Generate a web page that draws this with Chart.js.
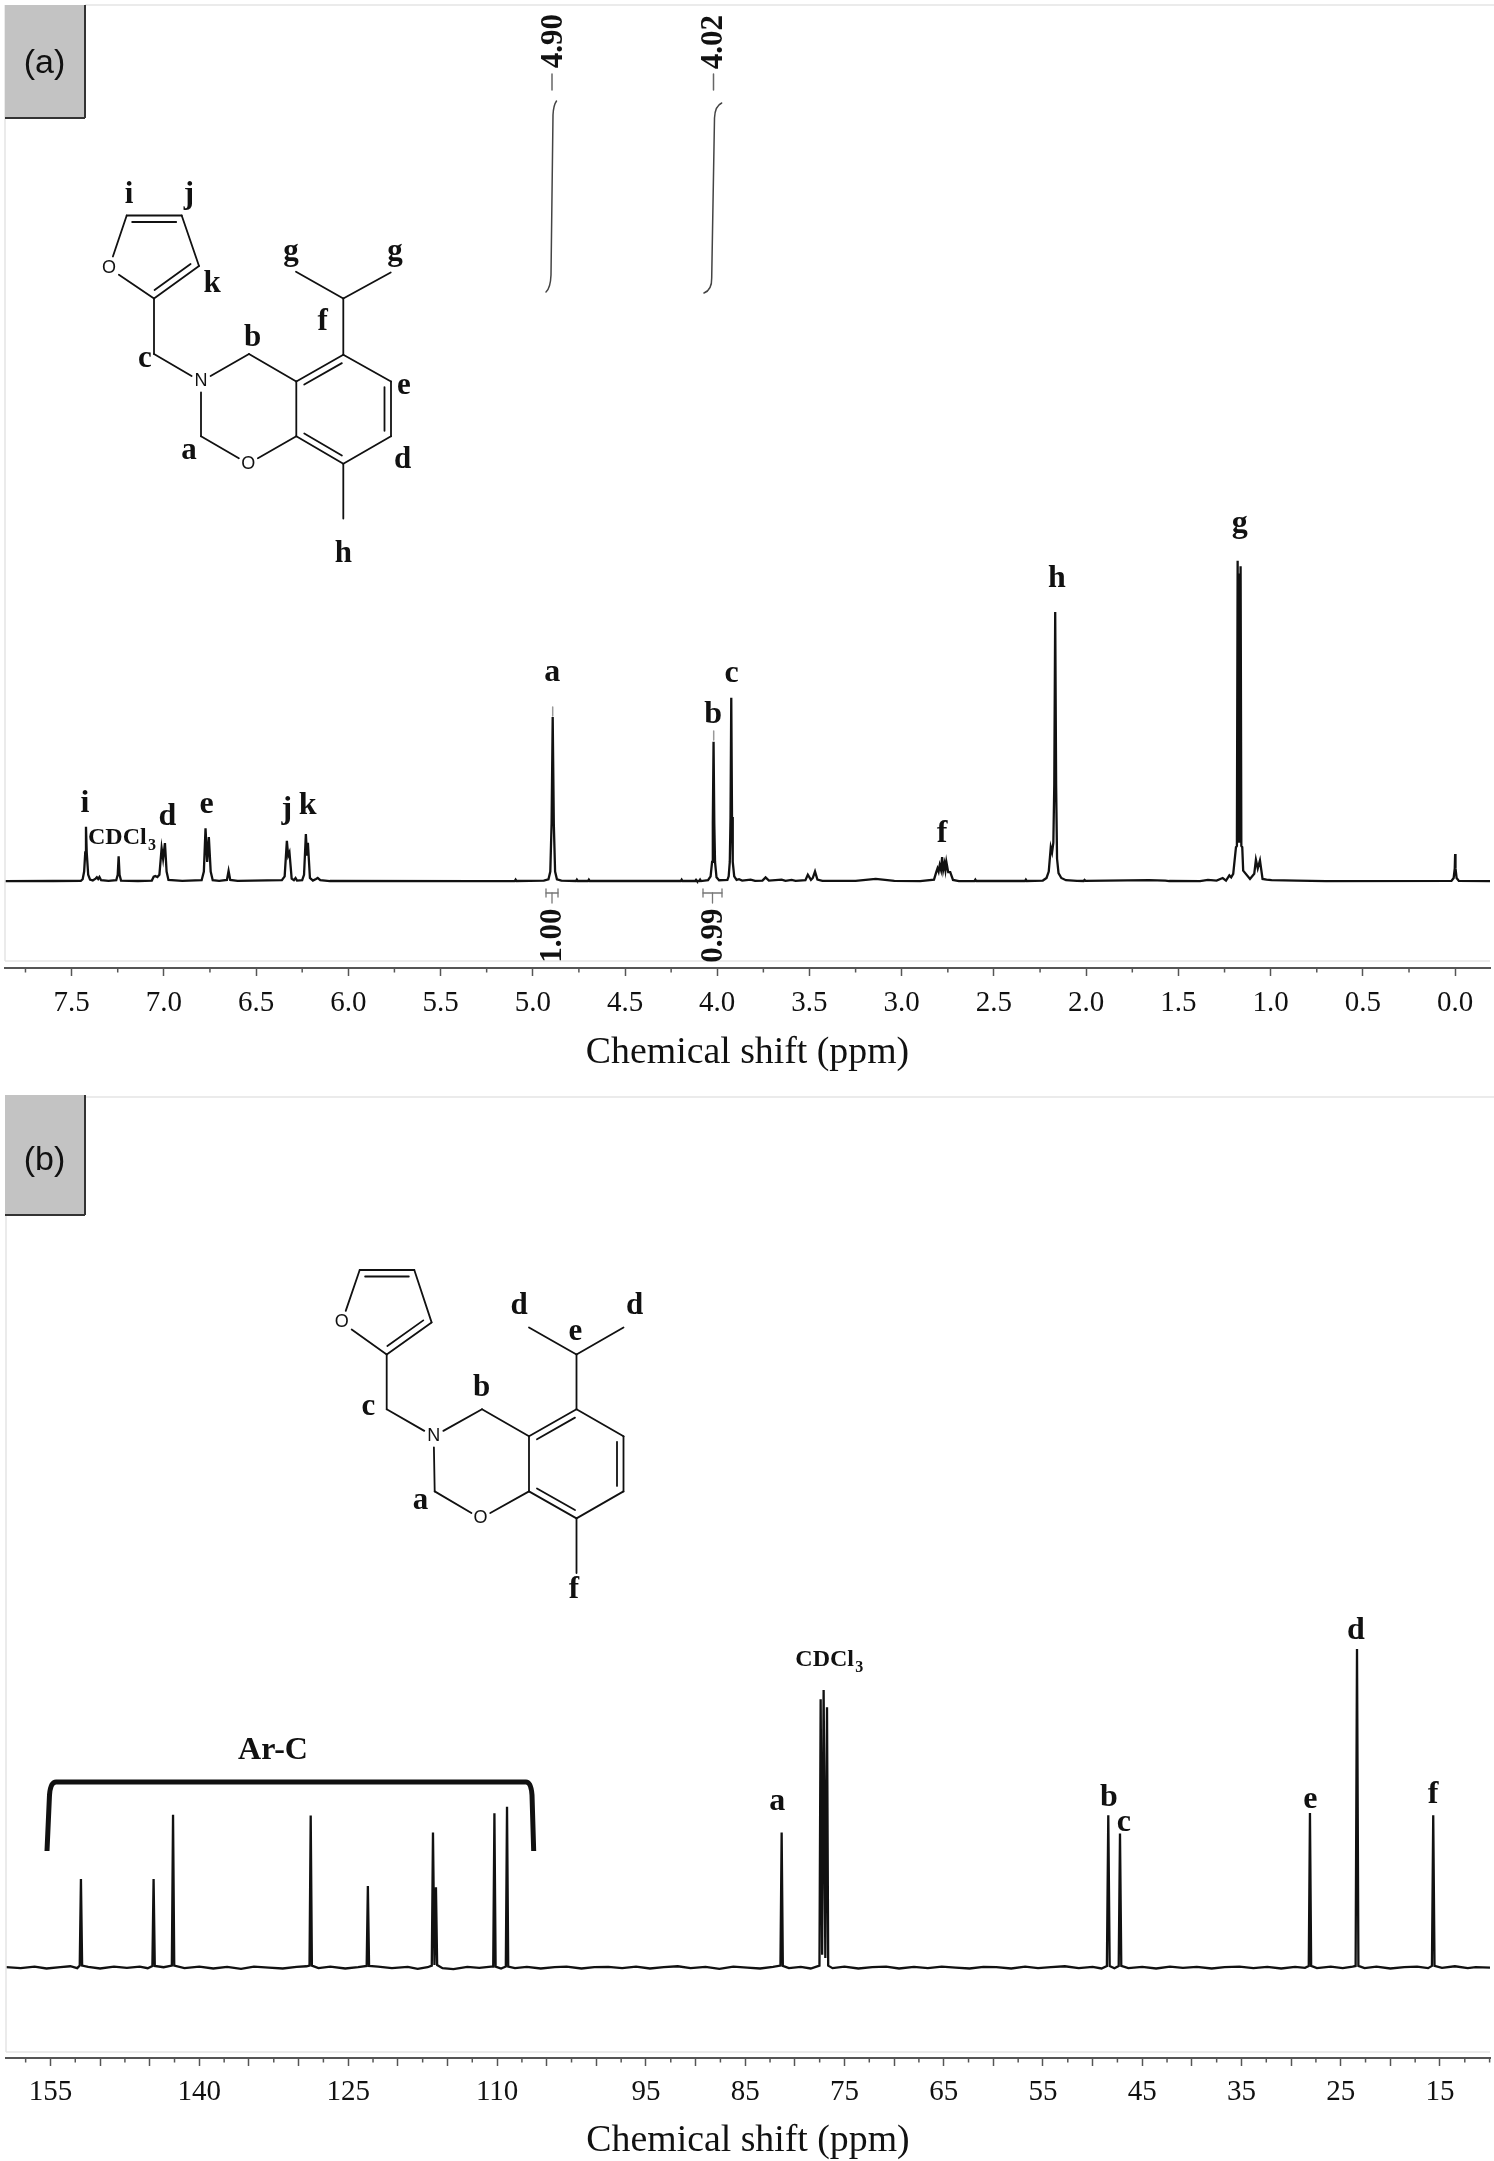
<!DOCTYPE html>
<html>
<head>
<meta charset="utf-8">
<title>NMR spectra</title>
<script src="https://cdn.jsdelivr.net/npm/chart.js@4"></script>
<style>
  html, body { margin: 0; padding: 0; background: #fff; }
  canvas { display: block; }
</style>
</head>
<body>
<canvas id="chartA" width="1494" height="1090"></canvas>
<canvas id="chartB" width="1494" height="1071"></canvas>
<script>
// 1H spectrum. intensity: tallest peak (g) = 100
const ppmA = [
  7.861,7.6,7.45,7.44,7.432,7.426,7.422,7.418,7.41,7.4,
  7.385,7.37,7.363,7.356,7.349,7.34,7.3,7.258,7.25,7.245,7.24,7.232,7.14,
  7.065,7.055,7.046,7.035,7.024,7.012,7.004,6.994,6.985,6.975,6.9,
  6.795,6.783,6.774,6.765,6.756,6.746,6.735,6.7,6.658,6.649,6.64,6.6,
  6.36,6.345,6.333,6.326,6.319,6.307,6.295,6.286,6.278,6.25,
  6.24,6.23,6.224,6.219,6.208,6.192,6.175,6.166,6.152,6.1,5.3,
  5.098,5.093,5.088,4.94,4.915,4.905,4.898,4.892,4.886,4.879,4.869,4.845,
  4.766,4.761,4.756,4.701,4.696,4.691,4.198,4.193,4.188,4.12,4.115,4.11,4.098,4.093,4.088,
  4.05,4.036,4.028,4.024,4.02,4.016,4.012,4.004,3.99,
  3.945,3.938,3.932,3.928,3.924,3.92,3.916,3.908,3.895,
  3.882,3.865,3.819,3.795,3.755,3.738,3.72,3.651,3.63,3.597,3.575,3.522,3.509,3.492,3.482,3.47,3.457,3.43,
  3.25,3.141,3.04,2.9,2.825,2.812,2.806,2.8,2.794,2.787,2.781,2.775,2.768,2.763,2.758,2.748,2.737,2.722,2.69,
  2.606,2.601,2.596,2.332,2.327,2.322,2.235,2.215,2.203,2.192,2.185,2.178,2.173,2.168,2.163,2.158,2.15,2.135,2.11,2.05,
  2.014,2.009,2.004,1.661,1.571,1.55,1.383,1.34,1.293,1.26,1.242,1.224,1.214,1.203,1.188,1.183,1.179,1.175,1.171,1.167,1.163,1.159,1.154,1.149,1.112,1.089,1.08,1.07,1.058,1.044,1.022,0.995,0.86,0.7,
  0.02,0.008,0.002,0,-0.002,-0.008,-0.02,-0.189
];
const intensityA = [
  0,0.05,0.1,0.6,3,9,17,9,2,0.5,
  0.2,0.8,1.2,0.7,1.3,0.3,0.1,0.3,2,7.8,2,0.2,0.05,
  0.2,1.4,1.6,1.3,2,10.3,7,11.9,3,0.4,0.1,
  0.3,3,16.5,6,13.8,3,0.3,0.1,0.4,3.2,0.4,0.1,
  0.3,1.5,12.6,8,9,0.8,0.3,1,0.2,0.3,
  2,14.7,8,12,1,0.2,0.7,1,0.3,0.05,0,
  0.05,0.5,0.05,0.15,0.6,3,18,51.2,18,3,0.6,0.15,
  0.05,0.5,0.05,0.05,0.5,0.05,0.05,0.5,0.05,0.05,0.4,0.05,0.05,0.5,0.05,
  0.3,1.5,6,18,43.5,18,6,1.2,0.3,
  0.4,1.5,6,20,57.2,20,6,1.5,0.4,
  0.6,0.2,0.5,0.1,0.2,1.2,0.2,0.5,0.1,0.4,0.1,0.3,2,0.4,1,3,0.5,0.1,
  0.1,0.7,0.1,0,0.5,3,4,3,5,3.5,7.5,3.5,5.5,3.5,6,2.8,2.8,0.4,0,
  0.05,0.5,0.05,0.05,0.5,0.05,0.2,1,3,10.6,9,12,30,84,30,7,2.5,1,0.3,0.1,
  0.05,0.4,0.1,0.3,0.2,0.05,0,0.4,0.2,1,0.2,1.8,1.2,2.3,10.6,11,100,12,96,12,98.3,11,10.6,3.3,0.7,2.3,6.7,4,6.5,0.7,0.5,0.3,0.2,0,
  0.1,1,4,8.5,4,1,0.1,0
];
const ticksA = [7.5,7,6.5,6,5.5,5,4.5,4,3.5,3,2.5,2,1.5,1,0.5,0];
const minorTicksA = [7.75,7.25,6.75,6.25,5.75,5.25,4.75,4.25,3.75,3.25,2.75,2.25,1.75,1.25,0.75,0.25];
const peakNamesA = ['i','d','e','j','k','a','b','c','f','h','g'];
const peakNamePpmA = [7.428,6.98,6.768,6.333,6.22,4.895,4.022,3.922,2.781,2.159,1.168];
const peakNameIntA = [21.6,17.5,21.25,19.7,20.9,62.6,49.3,62.3,12.1,91.7,108.9];

// 13C spectrum, tallest peak (d) = 100
const ppmB = [
  159.48,158,156.6,155.4,154,153,152.3,152.05,151.93,151.81,151.2,150,
  148.6,147.3,146,145.2,144.73,144.61,144.49,143.6,142.77,142.65,142.53,141.5,140,
  138.6,137.2,135.8,134.5,133,131.6,130.2,129.2,128.9,128.78,128.66,128,126.8,125.3,124,
  123.14,123.02,122.9,122,120.6,119,118,117,116.58,116.46,116.31,116.16,116.04,115.5,114.4,113,111.8,110.6,
  110.39,110.27,110.15,109.6,109.12,109,108.88,108.2,107,105.6,104.2,103,101.5,100.2,98.8,97.4,96,94.6,93.2,91.8,90.5,89,87.6,86.2,84.8,83.5,82.2,
  81.45,81.33,81.21,80.6,79.4,78.4,77.52,77.4,77.25,77.1,76.93,76.76,76.64,76.2,75,
  73.6,72.2,70.8,69.5,68,66.6,65.2,63.8,62.4,61,59.7,58.2,56.8,55.5,54.2,52.8,51.4,50,49.1,
  48.56,48.42,48.28,47.8,47.37,47.24,47.11,46.4,45,43.6,42.2,40.9,39.5,38,36.7,35.2,33.8,32.4,31,29.6,28.6,
  28.22,28.1,27.98,27.4,26,24.8,23.8,23.5,23.36,23.22,22.6,21.4,20,18.6,17.3,16.2,
  15.81,15.68,15.55,14.8,13.5,12.2,11.4,9.96
];
const intensityB = [
  0.1,-0.2,0.3,-0.3,0.1,0.4,-0.2,0.6,27.8,0.6,0.2,-0.3,
  0.3,-0.1,0.3,-0.2,0.5,27.8,0.5,0.1,0.6,48,0.6,-0.2,0.3,
  -0.3,0.2,-0.4,0.3,0,-0.3,0.2,0.4,0.6,47.7,0.6,-0.2,0.3,-0.3,0.1,
  0.5,25.6,0.5,0.3,-0.2,0.2,-0.4,0.1,0.6,42.4,0.8,25.2,0.8,-0.2,-0.5,0.2,-0.1,0.3,
  0.3,48.4,0.3,-0.3,0.3,50.5,0.3,-0.2,0.2,-0.3,0.1,0.3,-0.3,0.1,0.2,-0.2,0.3,-0.3,0.1,0.4,-0.2,0.2,-0.4,0.3,0,-0.3,0.2,
  0.6,42.4,0.5,-0.2,0.2,-0.3,0.6,84.2,4,87.1,3,81.7,0.6,-0.2,0.3,
  -0.3,0.1,0.3,-0.3,0.2,-0.2,0.3,0,-0.3,0.2,0.1,-0.3,0.3,-0.2,0.1,0.4,-0.2,0.2,-0.3,
  0.5,47.8,0.5,-0.2,0.5,42.1,0.5,-0.2,0.2,-0.3,0.3,-0.1,0.2,-0.3,0.1,0.3,-0.2,0.2,-0.3,0.2,-0.1,
  0.5,48.5,0.5,-0.2,0.3,-0.2,0.3,0.5,100,0.5,-0.2,0.3,-0.3,0.1,0.3,-0.2,
  0.5,47.8,0.5,-0.1,0.4,-0.2,0.1,0
];
const ticksB = [155,150,145,140,135,130,125,120,115,110,105,100,95,90,85,80,75,70,65,60,55,50,45,40,35,30,25,20,15];
const tickLabelsB = [155,140,125,110,95,85,75,65,55,45,35,25,15];
const minorTicksB = [157.5,152.5,147.5,142.5,137.5,132.5,127.5,122.5,117.5,112.5,107.5,102.5,97.5,92.5,87.5,82.5,77.5,72.5,67.5,62.5,57.5,52.5,47.5,42.5,37.5,32.5,27.5,22.5,17.5,12.5,10];
const peakNamesB = ['a','b','c','e','d','f'];
const peakNamePpmB = [81.77,48.35,46.84,28.07,23.46,15.7];
const peakNameIntB = [49.6,50.6,43,50.2,103.2,51.5];

const INK = '#111';
const AXIS = '#555';
const serif = '"Liberation Serif", "Times New Roman", serif';
const sans = '"Liberation Sans", Arial, sans-serif';

function line(ctx, x1, y1, x2, y2) {
  ctx.beginPath();
  ctx.moveTo(x1, y1);
  ctx.lineTo(x2, y2);
  ctx.stroke();
}

function text(ctx, s, x, y, font, align) {
  ctx.font = font;
  ctx.textAlign = align || 'center';
  ctx.textBaseline = 'alphabetic';
  ctx.fillStyle = INK;
  ctx.fillText(s, x, y);
}

function vertText(ctx, s, x, y, font) {
  ctx.save();
  ctx.translate(x, y);
  ctx.rotate(-Math.PI / 2);
  ctx.font = font;
  ctx.textAlign = 'center';
  ctx.textBaseline = 'middle';
  ctx.fillStyle = INK;
  ctx.fillText(s, 0, 0);
  ctx.restore();
}

function cdcl3(ctx, x, y) {
  text(ctx, 'CDCl', x, y, 'bold 24px ' + serif, 'left');
  text(ctx, '3', x + 60, y + 6, 'bold 16px ' + serif, 'left');
}

// gray box with the panel letter, and the pale frame
function panelBox(ctx, top, h, name, textY) {
  ctx.fillStyle = '#c3c3c3';
  ctx.fillRect(5, top, 80, h);
  ctx.strokeStyle = '#333';
  ctx.lineWidth = 2;
  line(ctx, 5, top + h, 85, top + h);
  line(ctx, 85, top, 85, top + h);
  ctx.fillStyle = INK;
  ctx.font = '34px ' + sans;
  ctx.textAlign = 'center';
  ctx.textBaseline = 'middle';
  ctx.fillText(name, 44.5, textY);
}

function frame(ctx, top, bottom, left) {
  ctx.strokeStyle = '#e4e4e4';
  ctx.lineWidth = 1.5;
  line(ctx, 85, top, 1494, top);
  line(ctx, left, top, left, bottom);
  line(ctx, left, bottom, 1490, bottom);
}

// same skeleton in both panels, p holds the atom positions
function molecule(ctx, p) {
  ctx.strokeStyle = INK;
  ctx.lineWidth = 1.8;
  ctx.lineCap = 'round';
  const single = (a, b, t1, t2) => {
    const dx = p[b][0] - p[a][0], dy = p[b][1] - p[a][1];
    line(ctx, p[a][0] + dx * (t1 || 0), p[a][1] + dy * (t1 || 0), p[a][0] + dx * (t2 || 1), p[a][1] + dy * (t2 || 1));
  };
  const double = (a, b, c) => {
    single(a, b);
    const ax = p[a][0] + (p[b][0] - p[a][0]) * 0.1, ay = p[a][1] + (p[b][1] - p[a][1]) * 0.1;
    const bx = p[a][0] + (p[b][0] - p[a][0]) * 0.9, by = p[a][1] + (p[b][1] - p[a][1]) * 0.9;
    const mx = (ax + bx) / 2, my = (ay + by) / 2;
    const d = Math.hypot(c[0] - mx, c[1] - my);
    const ox = (c[0] - mx) / d * 6.5, oy = (c[1] - my) / d * 6.5;
    line(ctx, ax + ox, ay + oy, bx + ox, by + oy);
  };
  const furanMid = [(p.fi[0] + p.fj[0] + p.fk[0] + p.f2[0] + p.fo[0]) / 5, (p.fi[1] + p.fj[1] + p.fk[1] + p.f2[1] + p.fo[1]) / 5];
  const ringMid = [(p.r1[0] + p.r3[0]) / 2, (p.r2[1] + p.r5[1]) / 2];
  single('fo', 'fi', 0.22);
  double('fi', 'fj', furanMid);
  single('fj', 'fk');
  double('fk', 'f2', furanMid);
  single('f2', 'fo', 0, 0.78);
  single('f2', 'c');
  single('c', 'n', 0, 0.8);
  single('n', 'b', 0.2);
  single('n', 'a', 0.2);
  single('a', 'o', 0, 0.8);
  single('o', 'r6', 0.2);
  single('b', 'r1');
  double('r1', 'r2', ringMid);
  single('r2', 'r3');
  double('r3', 'r4', ringMid);
  single('r4', 'r5');
  double('r5', 'r6', ringMid);
  single('r6', 'r1');
  single('r2', 'ch');
  single('ch', 'm1');
  single('ch', 'm2');
  single('r5', 'm3');
  ctx.fillStyle = INK;
  ctx.font = '18px ' + sans;
  ctx.textAlign = 'center';
  ctx.textBaseline = 'middle';
  ctx.fillText('O', p.fo[0], p.fo[1]);
  ctx.fillText('N', p.n[0], p.n[1]);
  ctx.fillText('O', p.o[0], p.o[1]);
}

const extras = {
  id: 'extras',
  afterDatasetsDraw(chart, args, opts) {
    const ctx = chart.ctx, xs = chart.scales.x, ys = chart.scales.y;
    ctx.save();
    ctx.strokeStyle = AXIS;
    ctx.lineWidth = 1.5;
    opts.minor.forEach(v => {
      const px = xs.getPixelForValue(v);
      line(ctx, px, chart.chartArea.bottom, px, chart.chartArea.bottom + 4.5);
    });
    opts.names.forEach((n, i) => {
      text(ctx, n, xs.getPixelForValue(opts.namePpm[i]), ys.getPixelForValue(opts.nameInt[i]), 'bold 32px ' + serif);
    });
    ctx.translate(0, -opts.top);
    opts.draw(ctx);
    ctx.restore();
  }
};

function drawA(ctx) {
  frame(ctx, 5, 961, 5);
  panelBox(ctx, 5, 113, '(a)', 64);
  molecule(ctx, {
    fo: [109, 268], fi: [126.7, 215.5], fj: [181.7, 215.5], fk: [199, 266], f2: [154, 298.5],
    c: [154, 354], n: [201, 381.5], b: [249, 354], a: [201, 436.3], o: [248.3, 463.8],
    r1: [296.3, 381.5], r2: [343.3, 354.8], r3: [391, 381.5], r4: [391, 436.3], r5: [343.3, 463.8], r6: [296.3, 436.3],
    ch: [343.3, 298.5], m1: [296, 271.7], m2: [390.7, 272.5], m3: [343.3, 518.6]
  });
  [['i', 129, 202.8], ['j', 189, 202.8], ['g', 291, 260], ['g', 395, 260], ['k', 212, 291.6], ['f', 322.7, 330],
   ['b', 252.7, 346], ['c', 145, 367.4], ['e', 404, 394], ['a', 189, 458.5], ['d', 402.7, 467.7], ['h', 343.3, 561.8]]
    .forEach(l => text(ctx, l[0], l[1], l[2], 'bold 31px ' + serif));
  cdcl3(ctx, 88, 844);

  // integrals at the top
  vertText(ctx, '4.90', 553.7, 41, 'bold 31px ' + serif);
  vertText(ctx, '4.02', 714, 42, 'bold 31px ' + serif);
  ctx.strokeStyle = '#666';
  ctx.lineWidth = 1.5;
  line(ctx, 552, 74, 552, 90);
  line(ctx, 713.5, 74, 713.5, 90);
  ctx.strokeStyle = '#444';
  ctx.beginPath();
  ctx.moveTo(556.5, 101);
  ctx.quadraticCurveTo(553.5, 105, 553, 115);
  ctx.lineTo(551, 275);
  ctx.quadraticCurveTo(550.5, 288, 546, 292);
  ctx.stroke();
  ctx.beginPath();
  ctx.moveTo(721.7, 103);
  ctx.quadraticCurveTo(715, 106, 714.5, 118);
  ctx.lineTo(711.7, 278);
  ctx.quadraticCurveTo(712, 290, 704, 293);
  ctx.stroke();

  // peak top marks and integral brackets
  ctx.strokeStyle = '#999';
  line(ctx, 552.7, 707, 552.7, 716);
  line(ctx, 713.7, 731, 713.7, 740);
  ctx.strokeStyle = '#777';
  ctx.lineWidth = 1.3;
  [[546, 558], [703, 722]].forEach(b => {
    const mid = (b[0] + b[1]) / 2;
    line(ctx, b[0], 893, b[1], 893);
    line(ctx, b[0], 889, b[0], 897);
    line(ctx, b[1], 889, b[1], 897);
    line(ctx, mid, 893, mid, 903);
  });
  vertText(ctx, '1.00', 553, 935.5, 'bold 31px ' + serif);
  vertText(ctx, '0.99', 713.5, 935.5, 'bold 31px ' + serif);
}

function drawB(ctx) {
  frame(ctx, 1097, 2052, 6);
  panelBox(ctx, 1095, 120, '(b)', 1161);
  molecule(ctx, {
    fo: [341.8, 1322.4], fi: [359.7, 1270], fj: [414.3, 1270], fk: [431.6, 1322.4], f2: [386.7, 1354.5],
    c: [386.7, 1409.3], n: [433.7, 1436.3], b: [482, 1409.3], a: [434.7, 1491.4], o: [480.6, 1518.4],
    r1: [529, 1436.3], r2: [576.5, 1409.3], r3: [623.5, 1436.3], r4: [623.5, 1491.4], r5: [576.5, 1518.4], r6: [529, 1491.4],
    ch: [576.5, 1354.5], m1: [529, 1327.5], m2: [623.5, 1327.5], m3: [576.5, 1573]
  });
  [['d', 519, 1313.6], ['d', 634.7, 1313.6], ['e', 575.5, 1340], ['b', 481.6, 1395.7], ['c', 368.4, 1415], ['a', 420.4, 1509], ['f', 574, 1598.4]]
    .forEach(l => text(ctx, l[0], l[1], l[2], 'bold 31px ' + serif));
  cdcl3(ctx, 795.3, 1666);

  // Ar-C bracket
  text(ctx, 'Ar-C', 273, 1759, 'bold 32px ' + serif);
  ctx.strokeStyle = INK;
  ctx.lineWidth = 5;
  ctx.lineCap = 'butt';
  ctx.beginPath();
  ctx.moveTo(47, 1851);
  ctx.lineTo(49.5, 1795);
  ctx.quadraticCurveTo(50.5, 1782, 56, 1782);
  ctx.lineTo(526, 1782);
  ctx.quadraticCurveTo(531, 1782, 532, 1795);
  ctx.lineTo(533.7, 1851);
  ctx.stroke();
}

function spectrumChart(id, cfg) {
  const ctx = document.querySelector(id).getContext('2d');
  return new Chart(ctx, {
    type: 'line',
    data: {
      datasets: [{
        data: cfg.ppm.map((p, i) => ({ x: p, y: cfg.intensity[i] })),
        borderColor: INK,
        borderWidth: cfg.lineWidth,
        pointRadius: 0,
        tension: 0,
        fill: false
      }]
    },
    plugins: [extras],
    options: {
      responsive: false,
      animation: false,
      layout: { padding: cfg.padding },
      plugins: {
        legend: { display: false },
        tooltip: { enabled: false },
        extras: {
          minor: cfg.minor, names: cfg.names, namePpm: cfg.namePpm, nameInt: cfg.nameInt,
          top: cfg.top, draw: cfg.draw
        }
      },
      scales: {
        x: {
          type: 'linear',
          reverse: true,
          min: cfg.xMin,
          max: cfg.xMax,
          afterBuildTicks: scale => { scale.ticks = cfg.ticks.map(v => ({ value: v })); },
          afterFit: scale => { scale.height = cfg.axisHeight; },
          border: { display: true, color: AXIS, width: 2 },
          grid: { drawOnChartArea: false, drawTicks: true, tickLength: 8, tickColor: AXIS, tickWidth: 1.5 },
          ticks: {
            color: INK,
            padding: cfg.tickPad,
            autoSkip: false,
            maxRotation: 0,
            font: { family: serif, size: 29 },
            callback: cfg.tickText
          },
          title: {
            display: true,
            text: 'Chemical shift (ppm)',
            color: INK,
            font: { family: serif, size: 37.8 },
            padding: { top: 0, bottom: cfg.titlePad }
          }
        },
        y: { display: false, min: cfg.yMin, max: cfg.yMax }
      }
    }
  });
}

spectrumChart('#chartA', {
  ppm: ppmA, intensity: intensityA, lineWidth: 2.3,
  xMin: -0.189, xMax: 7.861, yMin: -27.09, yMax: 273.4,
  ticks: ticksA, minor: minorTicksA,
  tickText: v => v.toFixed(1),
  names: peakNamesA, namePpm: peakNamePpmA, nameInt: peakNameIntA,
  padding: { left: 5, right: 4, top: 5, bottom: 0 },
  axisHeight: 122, tickPad: 9.5, titlePad: 14, top: 0, draw: drawA
});

spectrumChart('#chartB', {
  ppm: ppmB, intensity: intensityB, lineWidth: 2.3,
  xMin: 9.96, xMax: 159.48, yMin: -28.4, yMax: 273.3,
  ticks: ticksB, minor: minorTicksB,
  tickText: v => tickLabelsB.includes(v) ? String(v) : '',
  names: peakNamesB, namePpm: peakNamePpmB, nameInt: peakNameIntB,
  padding: { left: 6, right: 4, top: 7, bottom: 0 },
  axisHeight: 103, tickPad: 9, titlePad: -3, top: 1090, draw: drawB
});
</script>
</body>
</html>
